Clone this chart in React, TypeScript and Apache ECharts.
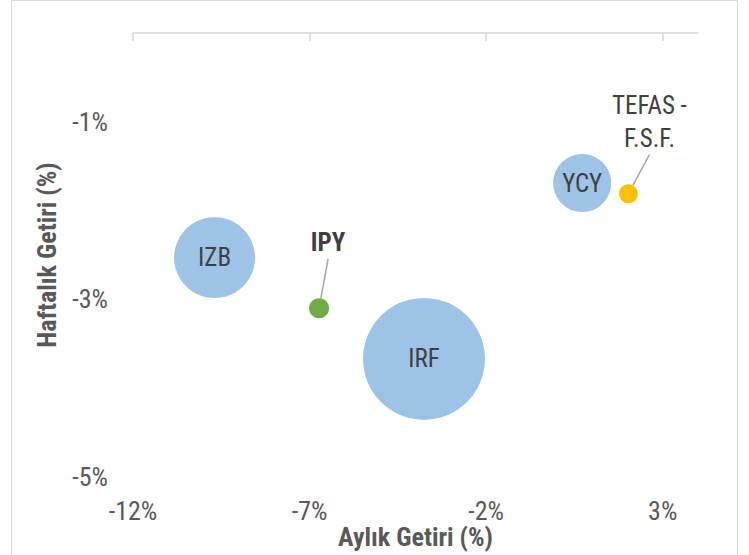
import React, { useEffect, useRef } from "react";
import * as echarts from "echarts";

const fundNames = ["IZB", "IPY", "IRF", "YCY", "TEFAS -\nF.S.F."];
const monthlyReturn = [-9.69, -6.73, -3.76, 0.72, 2.03];
const weeklyReturn = [-2.53, -3.1, -3.67, -1.69, -1.81];
const bubbleValue = [44, 2.7, 100, 22.6, 2.4];
const xTickValues = [-12, -7, -2, 3];
const yTickValues = [-5, -3, -1];

const FONT = "'Liberation Sans Narrow', 'Arial Narrow', 'Roboto Condensed', sans-serif";
const BLUE = "#9DC3E6";
const GREEN = "#70AD47";
const YELLOW = "#FFC000";

const pointStyle: Record<string, { color: string; callout?: boolean; bold?: boolean; dx?: number; dy?: number }> = {
  IZB: { color: BLUE },
  IPY: { color: GREEN, callout: true, bold: true, dx: 9, dy: -66 },
  IRF: { color: BLUE },
  YCY: { color: BLUE },
  "TEFAS -\nF.S.F.": { color: YELLOW, callout: true, dx: 21, dy: -72 },
};

export default function App() {
  const ref = useRef<HTMLDivElement>(null);
  useEffect(() => {
    document.body.style.margin = "0";
    const chart = echarts.init(ref.current!, null, { renderer: "svg" });
    const data = fundNames.map((n, i) => {
      const st = pointStyle[n];
      return {
        name: n,
        value: [monthlyReturn[i], weeklyReturn[i], bubbleValue[i]],
        itemStyle: { color: st.color },
        label: {
          fontWeight: st.bold ? "bold" : "normal",
          color: "#404040",
        },
        labelLine: { show: !!st.callout },
      };
    });
    chart.setOption({
      animation: false,
      graphic: [
        {
          type: "rect",
          shape: { x: 11.5, y: 0.5, width: 726, height: 600 },
          style: { fill: "none", stroke: "#d9d9d9", lineWidth: 1 },
          silent: true,
          z: -10,
        },
      ],
      grid: { left: 133, right: 51, top: 33, bottom: 78, outerBoundsMode: "none", containLabel: false },
      xAxis: [
        {
          type: "value",
          position: "bottom",
          min: -12,
          max: 4,
          interval: 5,
          axisLine: { show: false },
          axisTick: { show: false },
          splitLine: { show: false },
          axisLabel: {
            customValues: xTickValues,
            formatter: (v: number) => v + "%",
            color: "#595959",
            fontFamily: FONT,
            fontSize: 26,
            margin: 21,
          },
          name: "Aylık Getiri (%)",
          nameLocation: "middle",
          nameGap: 47,
          nameMoveOverlap: false,
          nameTextStyle: { color: "#595959", fontFamily: FONT, fontSize: 26, fontWeight: "bold", lineHeight: 26 },
        },
        {
          type: "value",
          position: "top",
          min: -12,
          max: 4,
          interval: 5,
          axisLine: { show: true, lineStyle: { color: "#d9d9d9", width: 1.5 } },
          axisTick: {
            show: true,
            inside: true,
            length: 8,
            customValues: xTickValues,
            lineStyle: { color: "#d9d9d9", width: 1.5 },
          },
          axisLabel: { show: false },
          splitLine: { show: false },
        },
      ],
      yAxis: {
        type: "value",
        min: -5,
        max: 0,
        interval: 2,
        axisLine: { show: false },
        axisTick: { show: false },
        splitLine: { show: false },
        axisLabel: {
          customValues: yTickValues,
          formatter: (v: number) => v + "%",
          color: "#595959",
          fontFamily: FONT,
          fontSize: 26,
          margin: 25,
        },
        name: "Haftalık Getiri (%)",
        nameLocation: "middle",
        nameGap: 73,
        nameMoveOverlap: false,
        nameTextStyle: { color: "#595959", fontFamily: FONT, fontSize: 26, fontWeight: "bold" },
      },
      series: [
        {
          type: "scatter",
          xAxisIndex: 0,
          yAxisIndex: 0,
          data,
          symbolSize: (v: number[]) => 12.2 * Math.sqrt(v[2]),
          itemStyle: { opacity: 1 },
          label: {
            show: true,
            position: "inside",
            formatter: "{b}",
            fontFamily: FONT,
            fontSize: 25,
            lineHeight: 33,
            color: "#404040",
          },
          labelLine: { show: false, lineStyle: { color: "#a6a6a6", width: 1.5 } },
          labelLayout: (p: any) => {
            const st = pointStyle[fundNames[p.dataIndex]];
            if (st && st.callout) return { dx: st.dx, dy: st.dy };
            return {};
          },
          emphasis: { disabled: true },
        },
      ],
    });
    return () => chart.dispose();
  }, []);
  return <div ref={ref} style={{ width: 749, height: 555 }} />;
}
